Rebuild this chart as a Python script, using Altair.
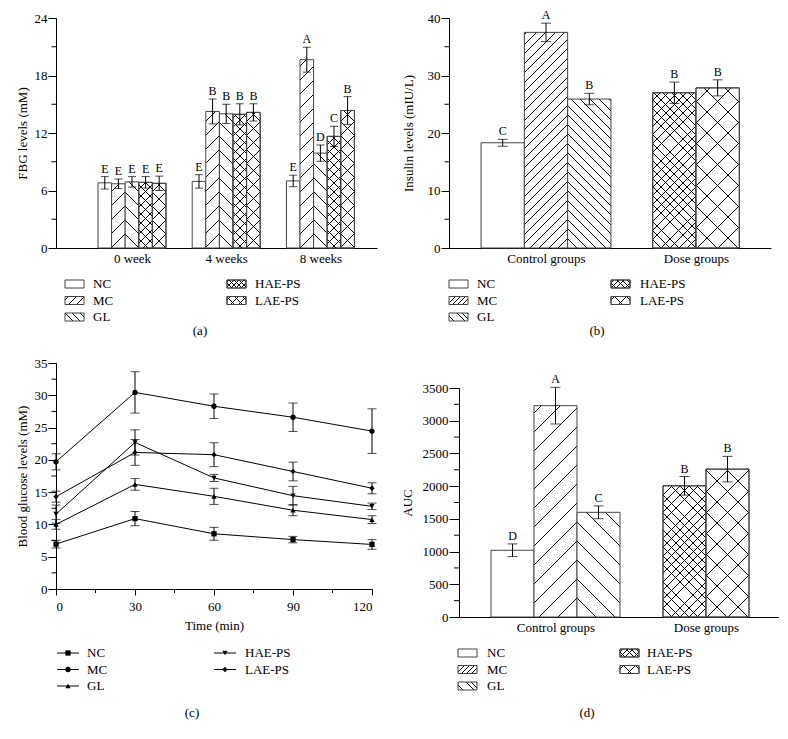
import math
import pandas as pd
import altair as alt

FONT = "Liberation Serif"
EDGE = "#444444"
TRANSP = "rgba(255,255,255,0)"

GROUPS = ["NC", "MC", "GL", "HAE-PS", "LAE-PS"]
WEEKS = ["0 week", "4 weeks", "8 weeks"]
SETS = ["Control groups", "Dose groups"]
SET_OF_GROUP = [0, 0, 0, 1, 1]

# (a) fasting blood glucose, mM, at 0 / 4 / 8 weeks
FBG_NC = [6.80, 6.95, 7.00]
FBG_MC = [6.70, 14.25, 19.65]
FBG_GL = [6.90, 14.00, 9.90]
FBG_HAE = [6.85, 13.95, 11.65]
FBG_LAE = [6.75, 14.15, 14.35]
FBG_NC_ERR = [0.65, 0.70, 0.60]
FBG_MC_ERR = [0.50, 1.30, 1.30]
FBG_GL_ERR = [0.55, 1.00, 0.85]
FBG_HAE_ERR = [0.60, 1.10, 1.05]
FBG_LAE_ERR = [0.75, 0.90, 1.45]
FBG_NC_SIG = ["E", "E", "E"]
FBG_MC_SIG = ["E", "B", "A"]
FBG_GL_SIG = ["E", "B", "D"]
FBG_HAE_SIG = ["E", "B", "C"]
FBG_LAE_SIG = ["E", "B", "B"]

# (b) insulin, mIU/L
INS = [18.3, 37.5, 25.9, 27.0, 27.85]
INS_ERR = [0.6, 1.6, 1.0, 1.85, 1.4]
INS_SIG = ["C", "A", "B", "B", "B"]

# (c) OGTT blood glucose, mM
TIMES = [0, 30, 60, 90, 120]
OG_NC = [6.95, 10.9, 8.55, 7.65, 6.9]
OG_MC = [19.7, 30.45, 28.3, 26.6, 24.45]
OG_GL = [10.0, 16.2, 14.35, 12.2, 10.75]
OG_HAE = [11.6, 22.7, 17.2, 14.45, 12.8]
OG_LAE = [14.3, 21.15, 20.8, 18.2, 15.6]
OG_NC_ERR = [0.6, 1.1, 1.0, 0.5, 0.75]
OG_MC_ERR = [1.25, 3.2, 1.9, 2.2, 3.45]
OG_GL_ERR = [0.75, 0.9, 1.25, 0.85, 0.6]
OG_HAE_ERR = [1.4, 1.95, 0.55, 1.45, 0.5]
OG_LAE_ERR = [0.85, 2.0, 1.85, 1.45, 0.85]
SHAPES = ["square", "circle", "triangle-up", "triangle-down", "diamond"]

# (d) AUC
AUC = [1020, 3230, 1600, 2005, 2260]
AUC_ERR = [97, 280, 98, 142, 195]
AUC_SIG = ["D", "A", "C", "B", "B"]

LW = 0.6


def hatch(kind, w, h, s, bg, lw=LW):
    k = (w + h) / (w * w + h * h)
    if kind == "/":
        x1, y1, x2, y2, anchor = 0, 0, k * w, k * h, 1.0
    else:
        x1, y1, x2, y2, anchor = 0, 1, k * w, 1 - k * h, 0.0
    per = s / (w + h)
    half = lw * math.sqrt(2) / (w + h) / 2
    stops = [{"offset": 0, "color": bg}]
    n0 = math.floor((0 - anchor) / per) - 1
    n1 = math.ceil((1 - anchor) / per) + 1
    for n in range(n0, n1 + 1):
        c = anchor + n * per
        a, b = c - half, c + half
        if b < 0 or a > 1:
            continue
        a = round(max(a, 0.0), 5)
        b = round(min(b, 1.0), 5)
        stops += [{"offset": a, "color": bg}, {"offset": a, "color": "black"},
                  {"offset": b, "color": "black"}, {"offset": b, "color": bg}]
    stops.append({"offset": 1, "color": bg})
    return {"gradient": "linear", "x1": round(x1, 5), "y1": round(y1, 5),
            "x2": round(x2, 5), "y2": round(y2, 5), "stops": stops}


def fills_for(spec, w, h):
    if not spec:
        return ["white"]
    out = []
    for i, (kind, s) in enumerate(spec):
        out.append(hatch(kind, w, h, s, "white" if i == 0 else TRANSP))
    return out


def pattern(s_line, s_dense, s_sparse):
    return {
        "NC": [],
        "MC": [("/", s_line)],
        "GL": [("\\", s_line)],
        "HAE-PS": [("/", s_dense), ("\\", s_dense)],
        "LAE-PS": [("/", s_sparse), ("\\", s_sparse)],
    }


def minor_y(yenc, vals, size, ox=0):
    return alt.Chart(pd.DataFrame({"m": vals})).mark_rule(color="black", strokeWidth=1).encode(
        y=yenc("m"), x=alt.value(ox - size), x2=alt.value(ox))


def caption_layer(text, x, y):
    return alt.Chart(pd.DataFrame({"c": [text]})).mark_text(fontSize=13, font=FONT).encode(
        x=alt.value(x), y=alt.value(y), text="c:N")


def swatch_legend(H, pat, lx, tx, y0, dy):
    layers = []
    for i, g in enumerate(GROUPS):
        col = 0 if i < 3 else 1
        row = i if i < 3 else i - 3
        ty = H + y0 + row * dy
        d = pd.DataFrame({"name": [g]})
        for f in fills_for([(k, s * 0.55) for k, s in pat[g]], 19, 8):
            layers.append(alt.Chart(d).mark_rect(fill=f, stroke=EDGE, strokeWidth=1).encode(
                x=alt.value(lx[col]), x2=alt.value(lx[col] + 19),
                y=alt.value(ty - 4), y2=alt.value(ty + 4)))
        layers.append(alt.Chart(d).mark_text(align="left", baseline="middle", fontSize=13, font=FONT).encode(
            x=alt.value(tx[col]), y=alt.value(ty), text="name:N"))
    return layers


def bar_panel(rows, W, H, xdom, ppu, ymax, yvals, yminor, ytitle, xlabels, pat, cap,
              lx, tx, ly0, ldy, captxt, capx, capy, bw, tick=8, minor=4.5, tpad=5, ox=0):
    def xenc(f):
        return alt.X(f, type="quantitative",
                     scale=alt.Scale(domain=xdom, nice=False, zero=False, range=[ox, W + ox]),
                     axis=alt.Axis(values=list(range(len(xlabels))),
                                   labelExpr="%s[datum.value]" % str(xlabels),
                                   ticks=False, title=None, labelPadding=4, grid=False))

    def yenc(f):
        return alt.Y(f, type="quantitative",
                     scale=alt.Scale(domain=[0, ymax], nice=False, zero=True),
                     axis=alt.Axis(values=yvals, title=ytitle, tickSize=tick, labelPadding=1,
                                   titlePadding=tpad, format="d", grid=False, offset=-ox))

    df = pd.DataFrame(rows)
    df["base"] = 0
    df["lo"] = df["v"] - df["e"]
    df["hi"] = df["v"] + df["e"]
    df["x0"] = df["xc"] - bw / 2
    df["x1"] = df["xc"] + bw / 2
    layers = []
    wpx = bw * ppu
    for _, r in df.iterrows():
        one = pd.DataFrame([r])
        hpx = r["v"] / ymax * H
        for f in fills_for(pat[r["group"]], wpx, hpx):
            layers.append(alt.Chart(one).mark_bar(fill=f, stroke=EDGE, strokeWidth=1).encode(
                x=xenc("x0"), x2="x1", y=yenc("v"), y2="base"))
    err = alt.Chart(df)
    layers.append(err.mark_rule(color="black", strokeWidth=1).encode(x=xenc("xc"), y=yenc("lo"), y2="hi"))
    layers.append(err.mark_tick(orient="horizontal", size=cap, thickness=1, color="black").encode(
        x=xenc("xc"), y=yenc("lo")))
    layers.append(err.mark_tick(orient="horizontal", size=cap, thickness=1, color="black").encode(
        x=xenc("xc"), y=yenc("hi")))
    layers.append(err.mark_text(baseline="middle", dy=-8, fontSize=12, font=FONT).encode(
        x=xenc("xc"), y=yenc("hi"), text="sig:N"))
    layers.append(minor_y(yenc, yminor, minor, ox))
    layers += swatch_legend(H, pat, [v + ox for v in lx], [v + ox for v in tx], ly0, ldy)
    layers.append(caption_layer(captxt, capx + ox, capy))
    return alt.layer(*layers).properties(width=W + ox, height=H)


# ---------- panel (a) ----------
A_W, A_H = 321, 230
A_PPU = 94.2
A_BW = 13.6 / A_PPU
a_rows = []
fbg = [FBG_NC, FBG_MC, FBG_GL, FBG_HAE, FBG_LAE]
fbg_e = [FBG_NC_ERR, FBG_MC_ERR, FBG_GL_ERR, FBG_HAE_ERR, FBG_LAE_ERR]
fbg_s = [FBG_NC_SIG, FBG_MC_SIG, FBG_GL_SIG, FBG_HAE_SIG, FBG_LAE_SIG]
for i, wk in enumerate(WEEKS):
    for j, g in enumerate(GROUPS):
        a_rows.append({"group": g, "xc": i + (j - 2) * A_BW, "v": fbg[j][i],
                       "e": fbg_e[j][i], "sig": fbg_s[j][i]})
panel_a = bar_panel(a_rows, A_W, A_H, [-76 / A_PPU, (A_W - 76) / A_PPU], A_PPU, 24,
                    [0, 6, 12, 18, 24], [3, 9, 15, 21], "FBG levels (mM)", WEEKS,
                    pattern(14, 9, 14), 8, [9, 171], [37, 199], 36, 16.5,
                    "(a)", 144, A_H + 83, A_BW, tick=8, minor=4.5, tpad=5)


def set_rows(vals, errs, sigs, bw):
    rows = []
    for j, g in enumerate(GROUPS):
        st = SET_OF_GROUP[j]
        members = [k for k in range(len(GROUPS)) if SET_OF_GROUP[k] == st]
        pos = members.index(j) - (len(members) - 1) / 2
        rows.append({"group": g, "xc": st + pos * bw, "v": vals[j], "e": errs[j], "sig": sigs[j]})
    return rows


# ---------- panel (b) ----------
B_W, B_H = 322, 230
B_PPU = 150.0
B_BW = 43.3 / B_PPU
panel_b = bar_panel(set_rows(INS, INS_ERR, INS_SIG, B_BW), B_W, B_H,
                    [-97 / B_PPU, (B_W - 97) / B_PPU], B_PPU, 40,
                    [0, 10, 20, 30, 40], [5, 15, 25, 35], "Insulin levels (mIU/L)", SETS,
                    pattern(9.5, 8.7, 21), 10, [0, 162], [28, 191], 36, 16.5,
                    "(b)", 148, B_H + 83, B_BW, tick=8, minor=4.5, tpad=12)

# ---------- panel (d) ----------
D_W, D_H = 320, 229
D_PPU = 150.5
D_BW = 43.0 / D_PPU
panel_d = bar_panel(set_rows(AUC, AUC_ERR, AUC_SIG, D_BW), D_W, D_H,
                    [-96.5 / D_PPU, (D_W - 96.5) / D_PPU], D_PPU, 3500,
                    list(range(0, 3501, 500)), list(range(250, 3500, 500)), "AUC", SETS,
                    pattern(9.5, 8.7, 21), 10, [-1, 161], [28, 188], 36, 16.5,
                    "(d)", 128, D_H + 96, D_BW, tick=10, minor=5, tpad=8, ox=10)

# ---------- panel (c) ----------
C_W, C_H = 316, 226


def cx(f):
    return alt.X(f, type="quantitative", scale=alt.Scale(domain=[0, 120], nice=False),
                 axis=alt.Axis(values=TIMES, title="Time (min)", tickSize=6, labelPadding=5,
                               titlePadding=6, grid=False))


def cy(f):
    return alt.Y(f, type="quantitative", scale=alt.Scale(domain=[0, 35], nice=False),
                 axis=alt.Axis(values=list(range(0, 36, 5)), title="Blood glucose levels (mM)",
                               tickSize=8, labelPadding=1, titlePadding=5, grid=False))


og = [OG_NC, OG_MC, OG_GL, OG_HAE, OG_LAE]
og_e = [OG_NC_ERR, OG_MC_ERR, OG_GL_ERR, OG_HAE_ERR, OG_LAE_ERR]
c_layers = []
c_all = []
for j, g in enumerate(GROUPS):
    d = pd.DataFrame({"t": TIMES, "v": og[j], "e": og_e[j]})
    d["lo"] = d["v"] - d["e"]
    d["hi"] = d["v"] + d["e"]
    d["group"] = g
    c_all.append(d)
    c_layers.append(alt.Chart(d).mark_line(color="black", strokeWidth=1).encode(x=cx("t"), y=cy("v")))
cdf = pd.concat(c_all, ignore_index=True)
ce = alt.Chart(cdf)
c_layers.append(ce.mark_rule(color="black", strokeWidth=1).encode(x=cx("t"), y=cy("lo"), y2="hi"))
c_layers.append(ce.mark_tick(orient="horizontal", size=9, thickness=1, color="black").encode(x=cx("t"), y=cy("lo")))
c_layers.append(ce.mark_tick(orient="horizontal", size=9, thickness=1, color="black").encode(x=cx("t"), y=cy("hi")))
for j, g in enumerate(GROUPS):
    c_layers.append(alt.Chart(c_all[j]).mark_point(shape=SHAPES[j], filled=True, color="black",
                                                   size=28, opacity=1).encode(x=cx("t"), y=cy("v")))
c_layers.append(minor_y(cy, [2.5 + 5 * k for k in range(7)], 4.5))
c_layers.append(alt.Chart(pd.DataFrame({"m": [15, 45, 75, 105]})).mark_rule(color="black", strokeWidth=1).encode(
    x=cx("m"), y=alt.value(C_H), y2=alt.value(C_H + 4)))
C_LX = [1, 158]
C_TX = [31, 189]
for i, g in enumerate(GROUPS):
    col = 0 if i < 3 else 1
    row = i if i < 3 else i - 3
    ty = C_H + 64 + row * 16.5
    d = pd.DataFrame({"name": [g]})
    c_layers.append(alt.Chart(d).mark_rule(color="black", strokeWidth=1).encode(
        x=alt.value(C_LX[col]), x2=alt.value(C_LX[col] + 22), y=alt.value(ty)))
    c_layers.append(alt.Chart(d).mark_point(shape=SHAPES[i], filled=True, color="black", size=28, opacity=1).encode(
        x=alt.value(C_LX[col] + 11), y=alt.value(ty)))
    c_layers.append(alt.Chart(d).mark_text(align="left", baseline="middle", fontSize=13, font=FONT).encode(
        x=alt.value(C_TX[col]), y=alt.value(ty), text="name:N"))
c_layers.append(caption_layer("(c)", 136, C_H + 124))
panel_c = alt.layer(*c_layers).properties(width=C_W, height=C_H)

left = alt.concat(panel_a, panel_c, columns=1, spacing=19)
right = alt.concat(panel_b, panel_d, columns=1, spacing=35)
chart = alt.hconcat(left, right, spacing=24).properties(
    padding={"left": 8, "top": 1, "right": 0, "bottom": 0}
).configure_view(stroke=None).configure_axis(
    domainColor="black", tickColor="black", labelColor="black", titleColor="black",
    labelFont=FONT, titleFont=FONT, labelFontSize=13, titleFontSize=13,
    titleFontWeight="normal", grid=False, domainWidth=1, tickWidth=1
).configure_text(font=FONT, color="black")

chart.save("out.html", embed_options={"renderer": "svg", "actions": False})
